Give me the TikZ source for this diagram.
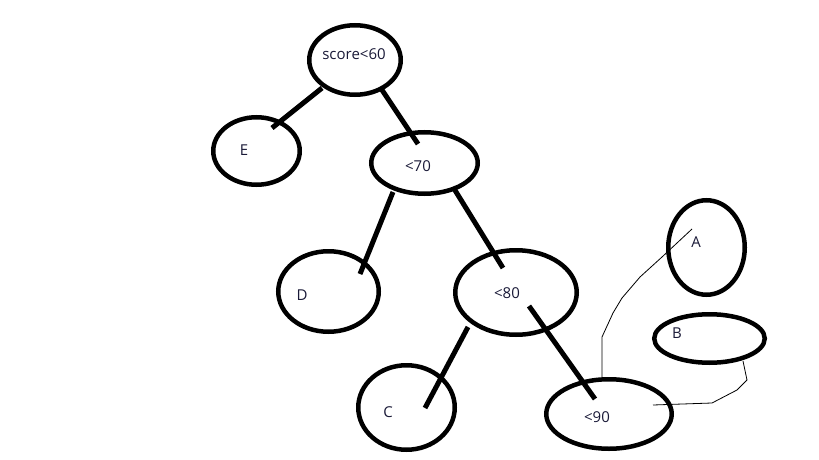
\documentclass[tikz,border=0pt]{standalone}
\usepackage{fontspec}
\setsansfont{Open Sans}
\usetikzlibrary{shapes.geometric}
\definecolor{ink}{RGB}{25,25,55}

\begin{document}
\begin{tikzpicture}[x=1pt,y=-1pt,
  oval/.style={draw,ellipse,line width=4.5pt,inner sep=0pt},
  tag/.style={font=\sffamily\fontsize{15}{15}\selectfont,inner sep=0pt,text=ink},
  branch/.style={line width=5pt},
  scrawl/.style={line width=0.8pt}]
\useasboundingbox (0,0) rectangle (819,460);
%Start with the ovals of the tree, one per decision
% and one per grade, each with its text set a little off centre
\node[oval,minimum width=91.5pt,minimum height=69.5pt] (root) at (355,60) {};
\node[oval,minimum width=86.5pt,minimum height=67.5pt] (E) at (256.5,151) {};
\node[oval,minimum width=106.5pt,minimum height=61.5pt] (n70) at (424.5,163) {};
\node[oval,minimum width=100.5pt,minimum height=80.5pt] (D) at (328.5,291.5) {};
\node[oval,minimum width=121.5pt,minimum height=84.5pt] (n80) at (516,292.5) {};
\node[oval,minimum width=96.5pt,minimum height=84.5pt] (C) at (406.5,407.5) {};
\node[oval,minimum width=125.5pt,minimum height=69.5pt] (n90) at (609,414) {};
\node[oval,minimum width=76.5pt,minimum height=94.5pt] (A) at (706.5,247.5) {};
\node[oval,minimum width=110.5pt,minimum height=48.5pt] (B) at (709.5,338.5) {};
% the texts
\node[tag] (troot) at (354,54) {score<60};
\node[tag] (tE) at (244,150) {E};
\node[tag] (t70) at (418,166) {<70};
\node[tag] (tD) at (302,295) {D};
\node[tag] (t80) at (507,293) {<80};
\node[tag] (tC) at (388,412) {C};
\node[tag] (t90) at (597,417) {<90};
\node[tag] (tA) at (696,242) {A};
\node[tag] (tB) at (677,333) {B};
% the thick branches
\draw[branch] ([shift={(-33,28)}]root.center) -- ([shift={(15.5,-23)}]E.center);
\draw[branch] ([shift={(25,27)}]root.center) -- ([shift={(-6.5,-19)}]n70.center);
\draw[branch] ([shift={(-31.5,29)}]n70.center) -- ([shift={(31.5,-17.5)}]D.center);
\draw[branch] ([shift={(28.5,24)}]n70.center) -- ([shift={(-13,-24.5)}]n80.center);
\draw[branch] ([shift={(-48,34.5)}]n80.center) -- ([shift={(18.5,0.5)}]C.center);
\draw[branch] ([shift={(13,13.5)}]n80.center) -- ([shift={(-14,-15)}]n90.center);
% the thin hand drawn strokes
\draw[scrawl] ([xshift=-7pt]n90.north) -- (602,337) -- (613,313) -- (622,298)
  -- (640,277) -- (662,257) -- ([shift={(-14.5,-18.5)}]A.center);
\draw[scrawl] ([shift={(33.5,22.5)}]B.center) -- (747,380) -- (737,390)
  -- (712,403) -- ([shift={(44,-9)}]n90.center);
\end{tikzpicture}
\end{document}
